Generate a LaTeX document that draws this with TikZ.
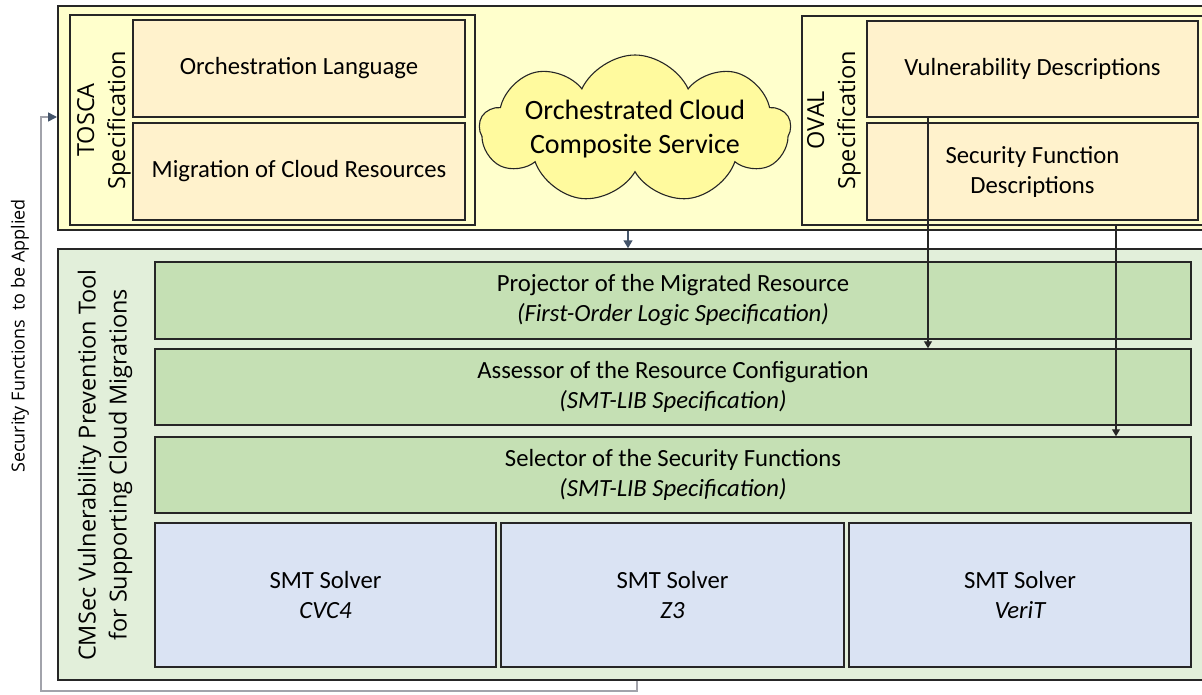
\documentclass[tikz,border=0pt]{standalone}
\usepackage{fontspec}
\setmainfont{Carlito}
\newfontfamily\osans{Open Sans}
\usetikzlibrary{shapes.symbols,arrows.meta}
\definecolor{ybg}{HTML}{FFFFCC}
\definecolor{cloudf}{HTML}{FFFA9E}
\definecolor{beige}{HTML}{FFF2CC}
\definecolor{gbg}{HTML}{E2EFDA}
\definecolor{gbox}{HTML}{C5E0B4}
\definecolor{bbox}{HTML}{DAE3F3}
\definecolor{bdr}{HTML}{262626}
\definecolor{slate}{HTML}{44546A}
\definecolor{fbgray}{HTML}{A2A3AB}
\newcommand\myboxfont{\fontsize{24.7}{30}\selectfont}
\newcommand\mycloudfont{\fontsize{28}{34}\selectfont}
\newcommand\myvlabfont{\osans\fontsize{23.5}{31}\selectfont}
\newcommand\mysidefont{\osans\fontsize{18}{22}\selectfont}
\tikzset{
  region/.style={draw=bdr, line width=1.6pt, inner sep=0pt},
  frame/.style={draw=bdr, line width=1.2pt, inner sep=0pt},
  box/.style={draw=bdr, line width=1.5pt, inner sep=0pt, font=\myboxfont, align=center, text=black},
  vlabel/.style={rotate=90, font=\myvlabfont, align=center, inner sep=0pt},
  arr/.style={draw=bdr, line width=1.2pt, -{Triangle[length=7pt,width=8pt]}},
  marr/.style={draw=slate, line width=1.5pt, -{Triangle[length=8pt,width=9pt]}},
  fbline/.style={draw=fbgray, line width=1.5pt, -{Triangle[length=9pt,width=9pt,color=slate]}}
}
\begin{document}
\begin{tikzpicture}[x=1pt,y=-1pt]
\useasboundingbox (0,0) rectangle (1202,694);
\clip (0,0) rectangle (1202,694);
% top region
\node[region, line width=2pt, fill=ybg, minimum width=1157pt, minimum height=224pt] (top) at (636.5,118) {};
\node[frame, minimum width=405pt, minimum height=210pt] (tosca) at (272.5,120) {};
\node[box, fill=beige, minimum width=332pt, minimum height=97pt] (ol) at (299,68.5) {Orchestration Language};
\node[box, fill=beige, minimum width=332pt, minimum height=97pt] (mig) at (299,171.5) {Migration of Cloud Resources};
\node[vlabel] (toscal) at (104,120) {TOSCA\\Specification};
\node[cloud, cloud puffs=9, cloud puff arc=130, cloud ignores aspect, draw=bdr, line width=1.1pt, fill=cloudf,
      minimum width=282pt, minimum height=148pt, inner sep=0pt, font=\mycloudfont, align=center] (cl) at (635,129)
      {Orchestrated Cloud\\Composite Service};
\node[frame, minimum width=413pt, minimum height=209pt] (oval) at (1008.5,120.5) {};
\node[box, fill=beige, minimum width=331pt, minimum height=96pt] (vd) at (1032.5,69) {Vulnerability Descriptions};
\node[box, fill=beige, minimum width=331pt, minimum height=97pt] (sfd) at (1032.5,171.5) {Security Function\\Descriptions};
\node[vlabel] (ovall) at (834,120) {OVAL\\Specification};
% tool region
\node[region, line width=1.5pt, fill=gbg, minimum width=1157pt, minimum height=431pt] (tool) at (636.5,464.5) {};
\node[box, fill=gbox, minimum width=1036pt, minimum height=77pt] (proj) at (673,300.5) {Projector of the Migrated Resource\\\itshape (First-Order Logic Specification)};
\node[box, fill=gbox, minimum width=1036pt, minimum height=76pt] (asse) at (673,387) {Assessor of the Resource Configuration\\\itshape (SMT-LIB Specification)};
\node[box, fill=gbox, minimum width=1036pt, minimum height=76pt] (sel) at (673,475) {Selector of the Security Functions\\\itshape (SMT-LIB Specification)};
\node[box, fill=bbox, minimum width=341pt, minimum height=144pt] (cvc) at (325.5,595) {SMT Solver\\\itshape CVC4};
\node[box, fill=bbox, minimum width=343pt, minimum height=144pt] (zthree) at (672.5,595) {SMT Solver\\\itshape Z3};
\node[box, fill=bbox, minimum width=342pt, minimum height=144pt] (verit) at (1020,595) {SMT Solver\\\itshape VeriT};
\node[vlabel] (tooll) at (105,465) {CMSec Vulnerability Prevention Tool\\for Supporting Cloud Migrations};
\node[rotate=90, font=\mysidefont, inner sep=0pt] (side) at (20,336) {Security Functions\ \ to be Applied};
% connectors
\coordinate (m) at (628,0);
\coordinate (aone) at (928,0);
\coordinate (atwo) at (1116,0);
\draw[marr] (m |- top.south) -- (m |- tool.north);
\draw[arr] (aone |- vd.south) -- (aone |- asse.north);
\draw[arr] (atwo |- oval.south) -- (atwo |- sel.north);
\coordinate (fbr) at (637,691);
\coordinate (fbl) at (41,691);
\draw[fbline] (fbr |- tool.south) -- (fbr) -- (fbl) |- ([yshift=1pt]top.west);
\end{tikzpicture}
\end{document}
